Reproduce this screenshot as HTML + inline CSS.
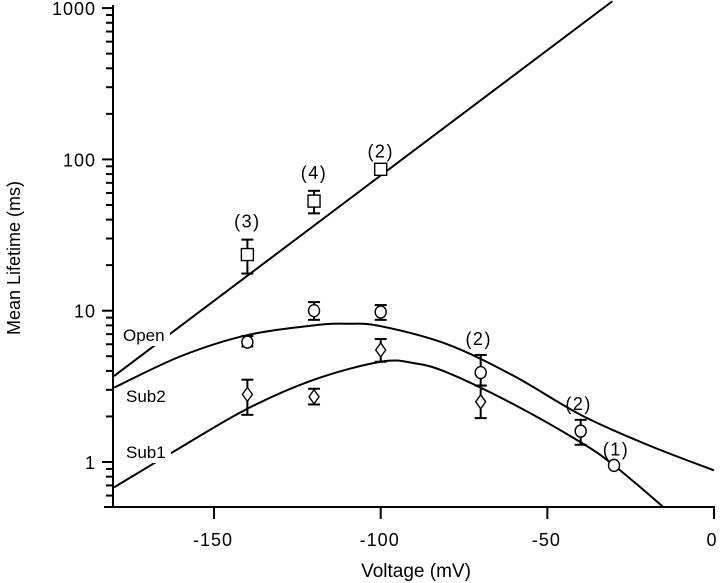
<!DOCTYPE html>
<html><head><meta charset="utf-8"><style>
body{margin:0;background:#fff}
svg{display:block;font-family:"Liberation Sans",sans-serif}
</style></head><body>
<svg id="c" width="720" height="583" viewBox="0 0 720 583"></svg>
<script>
const xTicks=[-150,-100,-50,0];
const yMajor=[1,10,100,1000];
const openSq={v:[-140,-120,-100],m:[23.5,53,86],lo:[17.6,44,86],hi:[29.5,62,86],n:["(3)","(4)","(2)"]};
const circ={v:[-140,-120,-100,-70,-40,-30],m:[6.2,10,9.8,3.9,1.6,0.95],lo:[5.8,8.7,8.7,3.2,1.3,0.95],hi:[6.8,11.4,10.9,5.1,1.9,0.95]};
const circLbl={v:[-70,-40,-30],m:[5.1,1.9,0.95],n:["(2)","(2)","(1)"]};
const diam={v:[-140,-120,-100,-70],m:[2.8,2.7,5.5,2.5],lo:[2.05,2.4,4.6,1.95],hi:[3.5,3.05,6.5,3.2]};
const openLine={v:[-180,-30.5],t:[3.7,1110]};
const sub2V=[-180,-160,-140,-120,-110,-100,-80,-60,-40,-20,0];
const sub2T=[3.1,5.0,6.9,8.0,8.2,7.9,6.0,3.7,2.05,1.3,0.88];
const sub1V=[-180,-160,-140,-120,-100,-90,-80,-60,-40,-30,-15];
const sub1T=[0.68,1.25,2.25,3.5,4.6,4.5,3.9,2.4,1.35,0.95,0.5];
const svg=document.getElementById('c'),NS='http://www.w3.org/2000/svg';
const X=v=>714+v*3.333, Y=t=>462-Math.log10(t)*151.3;
function el(t,a,p){const e=document.createElementNS(NS,t);for(const k in a)e.setAttribute(k,a[k]);(p||svg).appendChild(e);return e;}
const S={stroke:'#000','stroke-width':2,fill:'none'};
let e=el('line',{x1:113,y1:5,x2:113,y2:508,...S});
e=el('line',{x1:104,y1:507,x2:715,y2:507,...S});
xTicks.forEach(v=>{el('line',{x1:X(v),y1:507,x2:X(v),y2:519,...S});
 const t=el('text',{x:v===0?X(v)-2:X(v)-1,y:546,'font-size':18,'text-anchor':'middle','letter-spacing':'1'});t.textContent=v;
 });
yMajor.forEach(m=>{el('line',{x1:102,y1:Y(m),x2:113,y2:Y(m),...S});
 const t=el('text',{x:96,y:Y(m)+7,'font-size':18,'text-anchor':'end','letter-spacing':'1'});t.textContent=m;
 
 if(m<1000)for(let k=2;k<10;k++)el('line',{x1:106,y1:Y(m*k),x2:113,y2:Y(m*k),...S});});
[0.6,0.7,0.8,0.9].forEach(v=>el('line',{x1:106,y1:Y(v),x2:113,y2:Y(v),...S}));
let t=el('text',{x:416,y:577,'font-size':19,'text-anchor':'middle'});t.textContent='Voltage  (mV)';

t=el('text',{x:0,y:0,'font-size':18,'text-anchor':'middle',transform:'translate(20,258) rotate(-90)'});t.textContent='Mean Lifetime  (ms)';

function smooth(P){let d='M'+P[0][0]+','+P[0][1];
 for(let i=0;i<P.length-1;i++){const p0=P[i-1]||P[i],p1=P[i],p2=P[i+1],p3=P[i+2]||p2;
  d+=` C${p1[0]+(p2[0]-p0[0])/6},${p1[1]+(p2[1]-p0[1])/6} ${p2[0]-(p3[0]-p1[0])/6},${p2[1]-(p3[1]-p1[1])/6} ${p2[0]},${p2[1]}`;}
 return d;}
function line(V,T,name){const p=el('path',{d:smooth(V.map((v,i)=>[X(v),Y(T[i])])),...S});
 }
line(openLine.v,openLine.t,'open-fit-line');line(sub2V,sub2T,'sub2-fit-line');line(sub1V,sub1T,'sub1-fit-line');
[['Open',123,341],['Sub2',126,402],['Sub1',126,458]].forEach(([s,x,y])=>{
 el('rect',{x:x-3,y:y-16,width:s==='Open'?50:48,height:21,fill:'#fff'});
 const q=el('text',{x:x,y:y,'font-size':17});q.textContent=s;
 });
function err(d,i){const x=X(d.v[i]);if(d.hi[i]===d.lo[i])return;
 el('line',{x1:x,y1:Y(d.hi[i]),x2:x,y2:Y(d.lo[i]),...S});
 el('line',{x1:x-6,y1:Y(d.hi[i]),x2:x+6,y2:Y(d.hi[i]),...S});
 el('line',{x1:x-6,y1:Y(d.lo[i]),x2:x+6,y2:Y(d.lo[i]),...S});}
const W={stroke:'#000','stroke-width':1.4,fill:'#fff'};
openSq.v.forEach((v,i)=>{err(openSq,i);const r=el('rect',{x:X(v)-6,y:Y(openSq.m[i])-6,width:12,height:12,...W});
 
 const q=el('text',{x:X(v),y:Y(openSq.hi[i])-12,'font-size':18,'text-anchor':'middle','letter-spacing':'1.5'});q.textContent=openSq.n[i];
 });
circ.v.forEach((v,i)=>{err(circ,i);const c=el('ellipse',{cx:X(v),cy:Y(circ.m[i]),rx:5.5,ry:6,...W});
 });
diam.v.forEach((v,i)=>{err(diam,i);const x=X(v),y=Y(diam.m[i]);
 const p=el('polygon',{points:`${x},${y-7} ${x+5},${y} ${x},${y+7} ${x-5},${y}`,...W});
 });
circLbl.v.forEach((v,i)=>{const q=el('text',{x:X(v)+(i===2?2:-2),y:Y(circLbl.m[i])-10,'font-size':18,'text-anchor':'middle','letter-spacing':'1.5'});q.textContent=circLbl.n[i];
 });
</script>
</body></html>
